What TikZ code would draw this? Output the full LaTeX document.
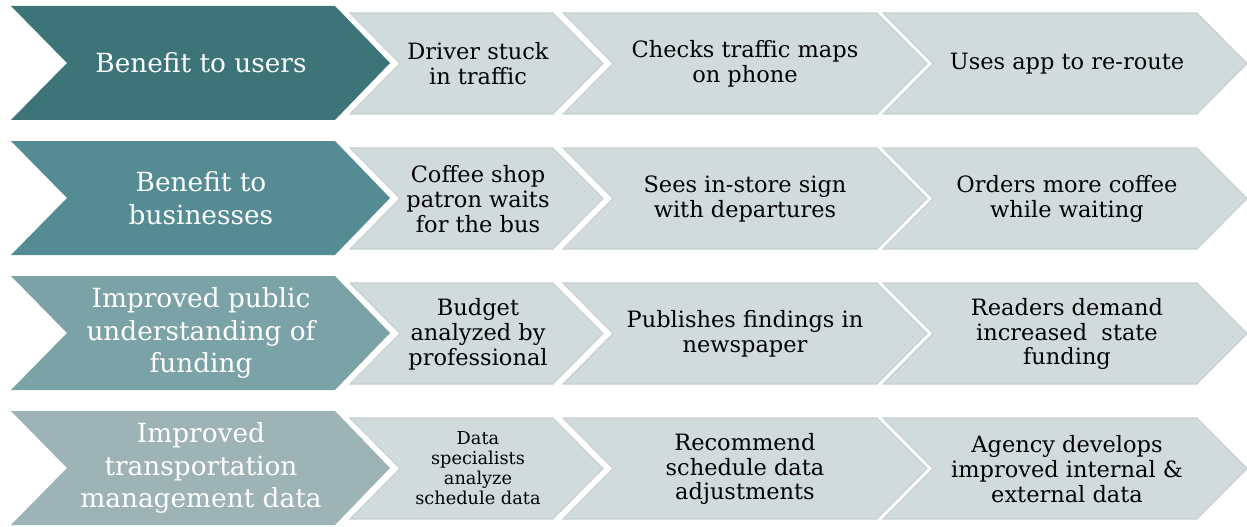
\documentclass[tikz,border=0pt]{standalone}
\usepackage{fontspec}
\setmainfont{DejaVu Serif}
\usetikzlibrary{positioning}
\definecolor{rowA}{HTML}{3D7478}
\definecolor{rowB}{HTML}{558C93}
\definecolor{rowC}{HTML}{7BA3A7}
\definecolor{rowD}{HTML}{9DB3B6}
\definecolor{grayfill}{HTML}{D1DBDC}
\definecolor{grayedge}{HTML}{C6D0D1}

% big chevron: #1 = top of the row, #2 = colour
\newcommand{\bigchev}[2]{%
  \fill[#2] (11,#1) -- (335,#1) -- (390,#1+57) -- (335,#1+114)
    -- (11,#1+114) -- (67,#1+57) -- cycle;}
% small chevron: #1 = top of the row, #2 = left x, #3 = right x of the body
\newcommand{\smallchev}[3]{%
  \filldraw[fill=grayfill, draw=grayedge, line width=0.6pt]
    (#2,#1+7) -- (#3,#1+7) -- (#3+50,#1+57.5) -- (#3,#1+108)
    -- (#2,#1+108) -- (#2+50,#1+57.5) -- cycle;}

\begin{document}
\begin{tikzpicture}[x=0.02cm, y=-0.02cm,
  head/.style  = {text=white, align=center, inner sep=0pt,
                  font=\fontsize{15}{18.6}\selectfont},
  item/.style  = {text=black, align=center, inner sep=0pt,
                  font=\fontsize{12.8}{14.2}\selectfont},
  small item/.style = {item, font=\fontsize{10.1}{11.5}\selectfont}]

\useasboundingbox (0,0) rectangle (1247,527);

% the chevrons, row by row
\foreach \y/\col in {6/rowA, 141/rowB, 276/rowC, 411/rowD} {
  \bigchev{\y}{\col}
  \smallchev{\y}{350}{553}
  \smallchev{\y}{563}{877}
  \smallchev{\y}{883}{1197}
}

% row 1
\node[head] (h1) at (201,63) {Benefit to users};
\node[item] (s11) at (478,64) {Driver stuck\\in traffic};
\node[item] (s12) at (745,64) {Checks traffic maps\\on phone};
\node[item] (s13) at (1067,64) {Uses app to re-route};

% row 2
\node[head] (h2) at (201,198) {Benefit to\\businesses};
\node[item] (s21) at (478,199) {Coffee shop\\patron waits\\for the bus};
\node[item] (s22) at (745,199) {Sees in-store sign\\with departures};
\node[item] (s23) at (1067,199) {Orders more coffee\\while waiting};

% row 3
\node[head] (h3) at (201,333) {Improved public\\understanding of\\funding};
\node[item] (s31) at (478,334) {Budget\\analyzed by\\professional};
\node[item] (s32) at (745,334) {Publishes findings in\\newspaper};
\node[item] (s33) at (1067,334) {Readers demand\\increased\ \ state\\funding};

% row 4
\node[head] (h4) at (201,468) {Improved\\transportation\\management data};
\node[small item] (s41) at (478,468) {Data\\specialists\\analyze\\schedule data};
\node[item] (s42) at (745,469) {Recommend\\schedule data\\adjustments};
\node[item] (s43) at (1067,469) {Agency develops\\improved internal \&\\external data};

\end{tikzpicture}
\end{document}
